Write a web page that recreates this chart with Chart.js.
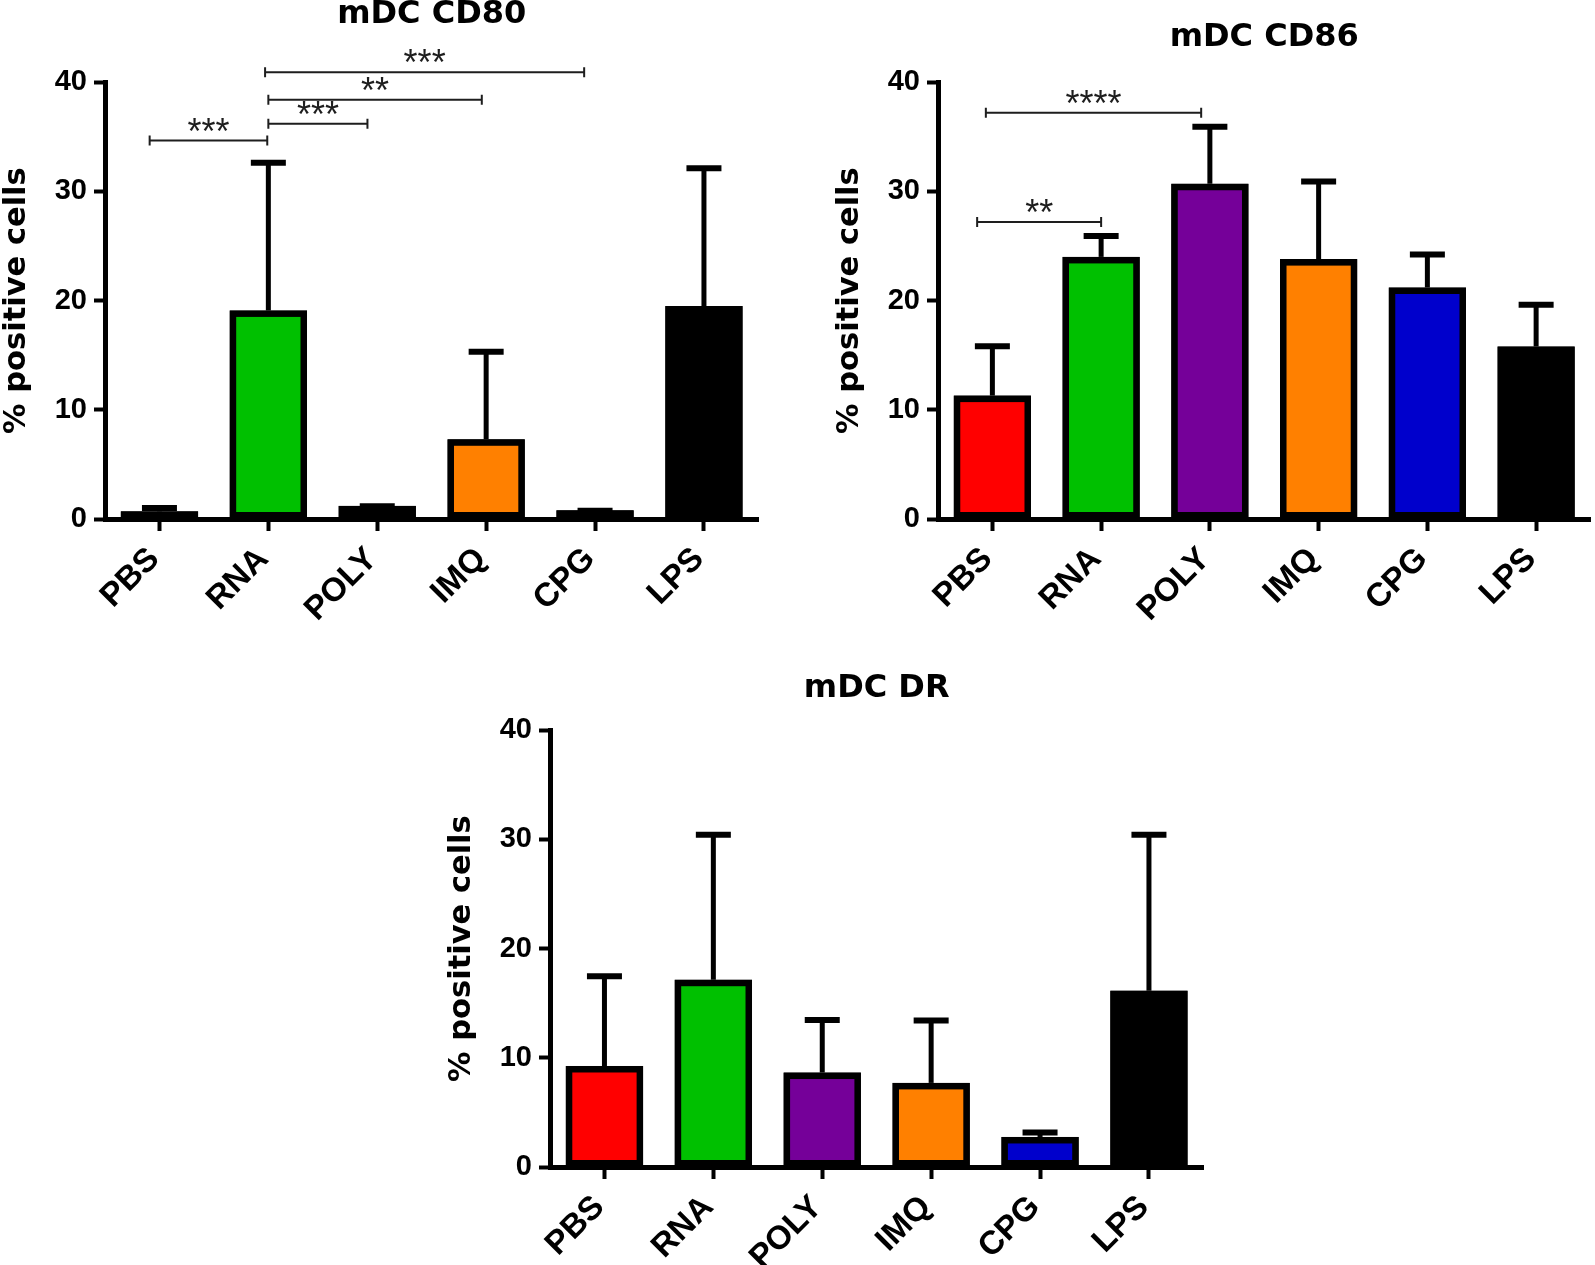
<!DOCTYPE html>
<html><head><meta charset="utf-8">
<script src="https://cdn.jsdelivr.net/npm/chart.js@4.4.1/dist/chart.umd.min.js"></script>
<style>
html,body{margin:0;padding:0;background:#fff;width:1595px;height:1265px;overflow:hidden;position:relative}
canvas{position:absolute}
</style></head><body>
<canvas id="c1"></canvas><canvas id="c2"></canvas><canvas id="c3"></canvas>
<script>
const categories = ['PBS', 'RNA', 'POLY', 'IMQ', 'CPG', 'LPS'];
const barColors = ['#ff0000', '#00c000', '#750099', '#ff8000', '#0000cc', '#000000'];
const yTicks = [0, 10, 20, 30, 40];

const cd80Mean = [0.7, 19.1, 1.2, 7.3, 0.8, 19.5];
const cd80Err  = [0.5, 13.7, 0.15, 8.2, 0.15, 12.8];
const cd86Mean = [11.3, 24.0, 30.7, 23.8, 21.2, 15.8];
const cd86Err  = [4.7, 2.1, 5.4, 7.3, 3.2, 4.0];
const drMean   = [9.25, 17.15, 8.65, 7.7, 2.75, 16.15];
const drErr    = [8.4, 13.45, 5.0, 5.9, 0.6, 14.45];

// significance brackets (category positions, y value, label)
const cd80SigFrom  = [-0.09, 1.0, 1.0, 0.97];
const cd80SigTo    = [0.99, 1.91, 2.96, 3.9];
const cd80SigY     = [34.65, 36.2, 38.4, 40.9];
const cd80SigLabel = ['***', '***', '**', '***'];
const cd86SigFrom  = [-0.14, -0.06];
const cd86SigTo    = [1.0, 1.92];
const cd86SigY     = [27.2, 37.2];
const cd86SigLabel = ['**', '****'];

const errorBarPlugin = {
  id: 'errorBars',
  afterDatasetsDraw(chart) {
    const o = chart.options.plugins.errorBars;
    const meta = chart.getDatasetMeta(0);
    const y = chart.scales.y;
    const ctx = chart.ctx;
    ctx.save();
    ctx.strokeStyle = '#000';
    ctx.lineCap = 'butt';
    // re-stroke bar outlines so fill/border seams stay solid
    meta.data.forEach((bar) => {
      const p = bar.getProps(['x', 'y', 'base', 'width'], true);
      const h = Math.abs(p.base - p.y);
      const lw = Math.min(6.5, h / 2);
      ctx.lineWidth = lw;
      ctx.strokeRect(p.x - p.width / 2 + lw / 2, Math.min(p.y, p.base) + lw / 2, p.width - lw, h - lw);
    });
    o.mean.forEach((m, i) => {
      const x = meta.data[i].x;
      const y0 = y.getPixelForValue(m);
      const y1 = y.getPixelForValue(m + o.err[i]);
      ctx.lineWidth = 5;
      ctx.beginPath(); ctx.moveTo(x, y0); ctx.lineTo(x, y1 + 1); ctx.stroke();
      ctx.lineWidth = 6;
      ctx.beginPath(); ctx.moveTo(x - 17.5, y1 + 2); ctx.lineTo(x + 17.5, y1 + 2); ctx.stroke();
    });
    ctx.restore();
  }
};

const sigPlugin = {
  id: 'sig',
  afterDraw(chart) {
    const o = chart.options.plugins.sig;
    if (!o || !o.from) return;
    const xs = chart.scales.x, ys = chart.scales.y, ctx = chart.ctx;
    ctx.save();
    ctx.strokeStyle = '#1e1e1e';
    ctx.fillStyle = '#1e1e1e';
    ctx.lineWidth = 2;
    ctx.font = '36px "Liberation Sans"';
    ctx.textAlign = 'center';
    ctx.textBaseline = 'alphabetic';
    o.from.forEach((f, i) => {
      const x1 = xs.getPixelForValue(f), x2 = xs.getPixelForValue(o.to[i]);
      const yy = ys.getPixelForValue(o.y[i]);
      ctx.beginPath();
      ctx.moveTo(x1, yy); ctx.lineTo(x2, yy);
      ctx.moveTo(x1, yy - 5); ctx.lineTo(x1, yy + 5);
      ctx.moveTo(x2, yy - 5); ctx.lineTo(x2, yy + 5);
      ctx.stroke();
      ctx.fillText(o.label[i], (x1 + x2) / 2, yy + 3);
    });
    ctx.restore();
  }
};

function makeChart(id, title, mean, err, sig, g) {
  const canvasLeft = g.axisX - 106;
  const canvasTop = g.titleCenter - 19.2;
  const right = g.axisX + 6 * g.catW - canvasLeft;
  const width = Math.ceil(right + 20);
  const height = Math.ceil(g.bottom - canvasTop + 110);
  const el = document.getElementById(id);
  el.width = width; el.height = height;
  el.style.left = canvasLeft + 'px'; el.style.top = canvasTop + 'px';
  el.style.width = width + 'px'; el.style.height = height + 'px';
  const padBottom = g.top - canvasTop - 38.4;
  return new Chart(el, {
    type: 'bar',
    data: {
      labels: categories,
      datasets: [{
        data: mean,
        backgroundColor: barColors,
        borderColor: '#000',
        borderWidth: 5,
        borderSkipped: false,
        categoryPercentage: 1,
        barPercentage: 0.71
      }]
    },
    options: {
      responsive: false,
      animation: false,
      events: [],
      layout: { padding: { left: 0, top: 0, bottom: 0, right: width - right } },
      plugins: {
        legend: { display: false },
        tooltip: { enabled: false },
        title: {
          display: true, text: title, fullSize: false, color: '#000',
          font: { family: 'DejaVu Sans', size: 32, weight: 'bold', lineHeight: 1.2 },
          padding: { top: 0, bottom: padBottom }
        },
        errorBars: { mean: mean, err: err },
        sig: sig
      },
      scales: {
        x: {
          offset: true,
          grid: { display: true, offset: false, drawOnChartArea: false, drawTicks: true, tickLength: 12, tickWidth: 4, tickColor: '#000' },
          border: { display: true, color: '#000', width: 5 },
          ticks: { color: '#000', autoSkip: false, minRotation: 45, maxRotation: 45, padding: 9, labelOffset: -5,
                   font: { family: 'Liberation Sans', size: 33, weight: 'bold' } },
          afterFit(s) { s.height = 110; }
        },
        y: {
          min: 0, max: 40,
          afterBuildTicks(s) { s.ticks = yTicks.map(v => ({ value: v })); },
          grid: { display: true, drawOnChartArea: false, drawTicks: true, tickLength: 11, tickWidth: 4, tickColor: '#000' },
          border: { display: true, color: '#000', width: 5 },
          ticks: { color: '#000', padding: 7, font: { family: 'Liberation Sans', size: 29, weight: 'bold' } },
          title: { display: true, text: '% positive cells', color: '#000', padding: 0,
                   font: { family: 'DejaVu Sans', size: 30.5, weight: 'bold', lineHeight: 1.2 } },
          afterFit(s) { s.width = 106; }
        }
      }
    },
    plugins: [errorBarPlugin, sigPlugin]
  });
}

makeChart('c1', 'mDC CD80', cd80Mean, cd80Err,
  { from: cd80SigFrom, to: cd80SigTo, y: cd80SigY, label: cd80SigLabel },
  { axisX: 105, catW: 108.9, top: 82, bottom: 518, titleCenter: 14 });
makeChart('c2', 'mDC CD86', cd86Mean, cd86Err,
  { from: cd86SigFrom, to: cd86SigTo, y: cd86SigY, label: cd86SigLabel },
  { axisX: 938, catW: 108.75, top: 82, bottom: 518, titleCenter: 37 });
makeChart('c3', 'mDC DR', drMean, drErr, {},
  { axisX: 550, catW: 108.9, top: 730, bottom: 1166, titleCenter: 688 });
</script>
</body></html>
